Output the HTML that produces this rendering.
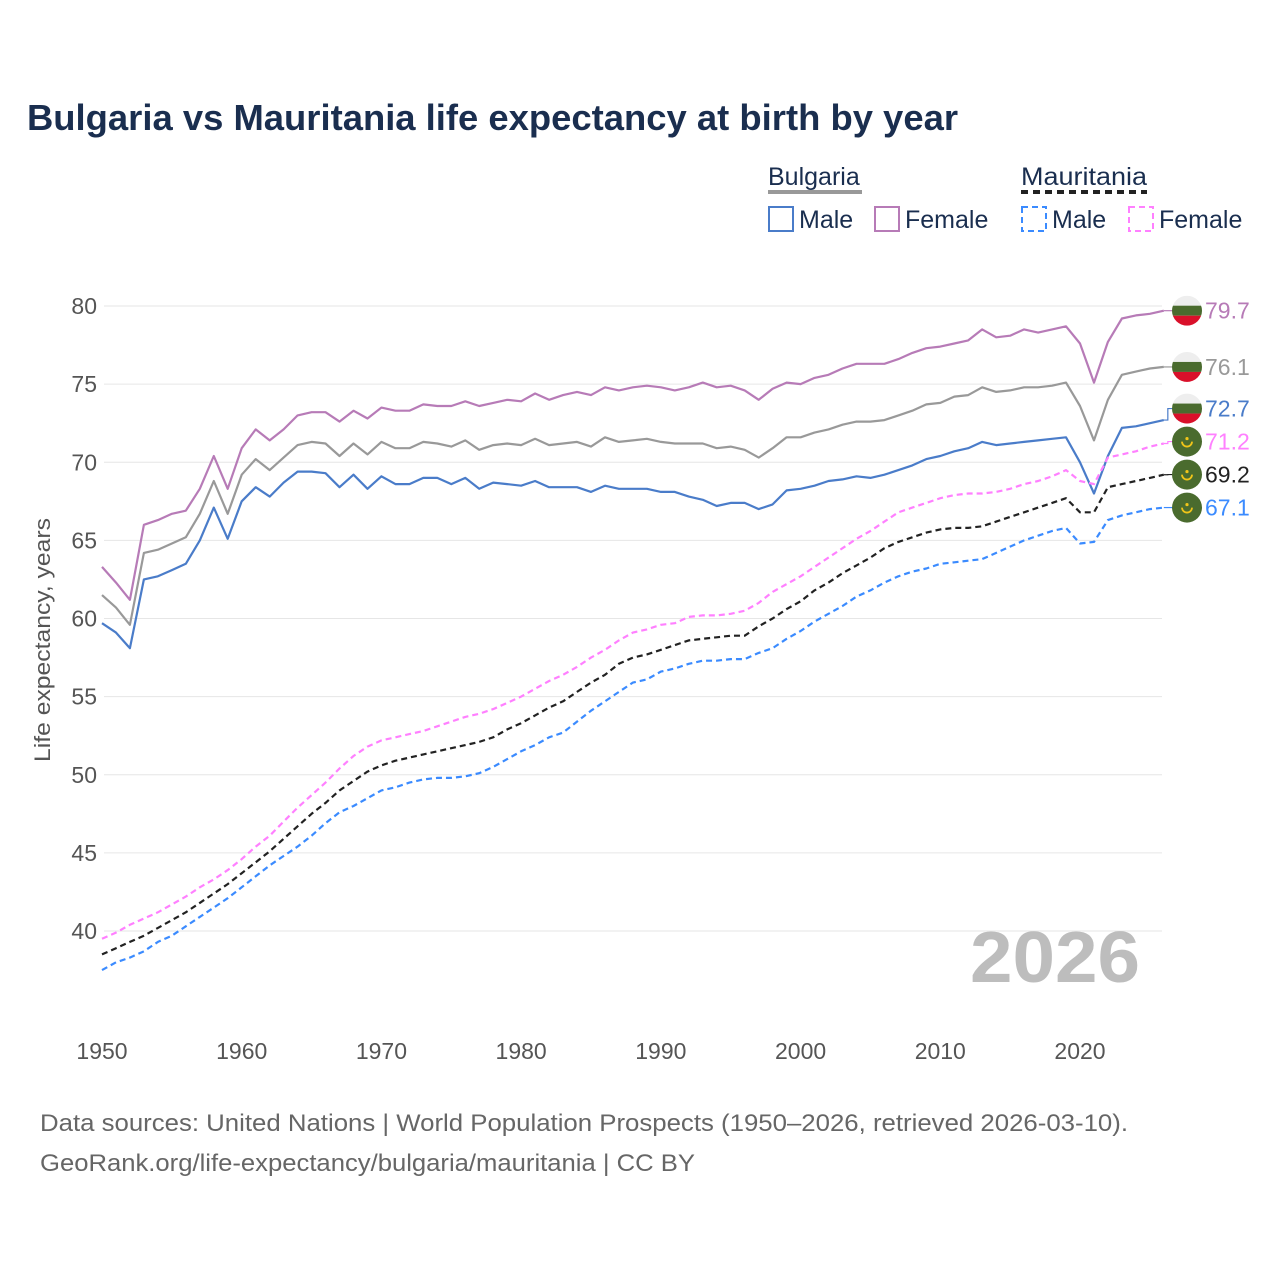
<!DOCTYPE html>
<html><head><meta charset="utf-8">
<style>
body{margin:0;background:#fff;}
svg{display:block;font-family:"Liberation Sans",sans-serif;}
</style></head>
<body>
<svg id="chart" width="1280" height="1280" viewBox="0 0 1280 1280" xmlns="http://www.w3.org/2000/svg">
<rect width="1280" height="1280" fill="#fff"/>
<text x="27" y="130" font-size="36" font-weight="bold" fill="#1a2e4f" textLength="931" lengthAdjust="spacingAndGlyphs">Bulgaria vs Mauritania life expectancy at birth by year</text>
<g font-size="25" fill="#1a2e4f">
<text x="768" y="185">Bulgaria</text>
<line x1="768" y1="192" x2="862" y2="192" stroke="#999" stroke-width="4"/>
<rect x="769" y="207" width="24" height="24" fill="none" stroke="#4a7cc9" stroke-width="2"/>
<text x="799" y="228">Male</text>
<rect x="875" y="207" width="24" height="24" fill="none" stroke="#b77bb7" stroke-width="2"/>
<text x="905" y="228">Female</text>
<text x="1021" y="185" textLength="126" lengthAdjust="spacingAndGlyphs">Mauritania</text>
<line x1="1021" y1="192" x2="1147" y2="192" stroke="#222" stroke-width="4" stroke-dasharray="7,5"/>
<rect x="1022" y="207" width="24" height="24" fill="none" stroke="#3b8bff" stroke-width="2" stroke-dasharray="6,4"/>
<text x="1052" y="228">Male</text>
<rect x="1129" y="207" width="24" height="24" fill="none" stroke="#ff80ff" stroke-width="2" stroke-dasharray="6,4"/>
<text x="1159" y="228">Female</text>
</g>
<g id="grid"></g>
<text x="1140" y="982" text-anchor="end" font-size="72" font-weight="bold" fill="#bdbdbd" textLength="170" lengthAdjust="spacingAndGlyphs">2026</text>
<g id="series"></g>
<g id="labels"></g>
<text transform="translate(50,640) rotate(-90)" text-anchor="middle" font-size="22" fill="#555" textLength="244" lengthAdjust="spacingAndGlyphs">Life expectancy, years</text>
<text x="40" y="1131" font-size="24" fill="#666" textLength="1088" lengthAdjust="spacingAndGlyphs">Data sources: United Nations | World Population Prospects (1950–2026, retrieved 2026-03-10).</text>
<text x="40" y="1171" font-size="24" fill="#666" textLength="655" lengthAdjust="spacingAndGlyphs">GeoRank.org/life-expectancy/bulgaria/mauritania | CC BY</text>
</svg>
<script>
const years = Array.from({length:77},(_, i)=>1950+i);
const xTicks = [1950,1960,1970,1980,1990,2000,2010,2020];
const yTicks = [40,45,50,55,60,65,70,75,80];
const bgFemale = [63.3,62.3,61.2,66.0,66.3,66.7,66.9,68.3,70.4,68.3,
70.9,72.1,71.4,72.1,73.0,73.2,73.2,72.6,73.3,72.8,
73.5,73.3,73.3,73.7,73.6,73.6,73.9,73.6,73.8,74.0,
73.9,74.4,74.0,74.3,74.5,74.3,74.8,74.6,74.8,74.9,
74.8,74.6,74.8,75.1,74.8,74.9,74.6,74.0,74.7,75.1,
75.0,75.4,75.6,76.0,76.3,76.3,76.3,76.6,77.0,77.3,
77.4,77.6,77.8,78.5,78.0,78.1,78.5,78.3,78.5,78.7,
77.6,75.1,77.7,79.2,79.4,79.5,79.7];
const bgTotal = [61.5,60.7,59.6,64.2,64.4,64.8,65.2,66.7,68.8,66.7,
69.2,70.2,69.5,70.3,71.1,71.3,71.2,70.4,71.2,70.5,
71.3,70.9,70.9,71.3,71.2,71.0,71.4,70.8,71.1,71.2,
71.1,71.5,71.1,71.2,71.3,71.0,71.6,71.3,71.4,71.5,
71.3,71.2,71.2,71.2,70.9,71.0,70.8,70.3,70.9,71.6,
71.6,71.9,72.1,72.4,72.6,72.6,72.7,73.0,73.3,73.7,
73.8,74.2,74.3,74.8,74.5,74.6,74.8,74.8,74.9,75.1,
73.6,71.4,74.0,75.6,75.8,76.0,76.1];
const bgMale = [59.7,59.1,58.1,62.5,62.7,63.1,63.5,65.0,67.1,65.1,
67.5,68.4,67.8,68.7,69.4,69.4,69.3,68.4,69.2,68.3,
69.1,68.6,68.6,69.0,69.0,68.6,69.0,68.3,68.7,68.6,
68.5,68.8,68.4,68.4,68.4,68.1,68.5,68.3,68.3,68.3,
68.1,68.1,67.8,67.6,67.2,67.4,67.4,67.0,67.3,68.2,
68.3,68.5,68.8,68.9,69.1,69.0,69.2,69.5,69.8,70.2,
70.4,70.7,70.9,71.3,71.1,71.2,71.3,71.4,71.5,71.6,
70.0,68.0,70.4,72.2,72.3,72.5,72.7];
const mrFemale = [39.5,39.9,40.4,40.8,41.2,41.7,42.2,42.8,43.3,43.9,
44.6,45.4,46.1,47.0,47.9,48.7,49.5,50.4,51.2,51.8,
52.2,52.4,52.6,52.8,53.1,53.4,53.7,53.9,54.2,54.6,
55.0,55.5,56.0,56.4,56.9,57.5,58.0,58.6,59.1,59.3,
59.6,59.7,60.1,60.2,60.2,60.3,60.5,61.0,61.7,62.2,
62.7,63.3,63.9,64.5,65.1,65.6,66.2,66.8,67.1,67.4,
67.7,67.9,68.0,68.0,68.1,68.3,68.6,68.8,69.1,69.5,
68.8,68.6,70.3,70.5,70.7,71.0,71.2];
const mrTotal = [38.5,38.9,39.3,39.7,40.2,40.7,41.2,41.8,42.4,43.0,
43.7,44.4,45.1,45.9,46.7,47.5,48.2,49.0,49.6,50.2,
50.6,50.9,51.1,51.3,51.5,51.7,51.9,52.1,52.4,52.9,
53.3,53.8,54.3,54.7,55.3,55.9,56.4,57.1,57.5,57.7,
58.0,58.3,58.6,58.7,58.8,58.9,58.9,59.5,60.0,60.6,
61.1,61.8,62.3,62.9,63.4,63.9,64.5,64.9,65.2,65.5,
65.7,65.8,65.8,65.9,66.2,66.5,66.8,67.1,67.4,67.7,
66.8,66.8,68.4,68.6,68.8,69.0,69.2];
const mrMale = [37.5,38.0,38.3,38.7,39.3,39.7,40.3,40.9,41.5,42.1,
42.8,43.5,44.2,44.8,45.4,46.1,46.9,47.6,48.0,48.5,
49.0,49.2,49.5,49.7,49.8,49.8,49.9,50.1,50.5,51.0,
51.5,51.9,52.4,52.7,53.4,54.1,54.7,55.3,55.9,56.1,
56.6,56.8,57.1,57.3,57.3,57.4,57.4,57.8,58.1,58.7,
59.2,59.8,60.3,60.8,61.4,61.8,62.3,62.7,63.0,63.2,
63.5,63.6,63.7,63.8,64.2,64.6,65.0,65.3,65.6,65.8,
64.8,64.9,66.3,66.6,66.8,67.0,67.1];

const NS='http://www.w3.org/2000/svg';
const x = y => 102 + (y-1950)*(1080-102)/70;
const yS = v => 306 + (80-v)*15.625;
const grid=document.getElementById('grid');
const series=document.getElementById('series');
const labels=document.getElementById('labels');
function mk(tag,attrs,parent){const e=document.createElementNS(NS,tag);for(const k in attrs)e.setAttribute(k,attrs[k]);parent.appendChild(e);return e;}

yTicks.forEach(t=>{
  const l=mk('line',{x1:104,x2:1162,y1:yS(t),y2:yS(t),stroke:'#e6e6e6','stroke-width':1},grid);
  
  
  const tx=mk('text',{x:97,y:yS(t)+8,'text-anchor':'end','font-size':23,fill:'#555'},grid);
  
  
  tx.textContent=t;
});
xTicks.forEach(t=>{
  const tx=mk('text',{x:x(t),y:1059,'text-anchor':'middle','font-size':23,fill:'#555'},grid);
  
  
  tx.textContent=t;
});

const defs=[
 {d:bgFemale,c:'#b77bb7',dash:null,n:'bulgaria-female',flag:'bg'},
 {d:bgTotal,c:'#999999',dash:null,n:'bulgaria-total',flag:'bg'},
 {d:bgMale,c:'#4a7cc9',dash:null,n:'bulgaria-male',flag:'bg'},
 {d:mrFemale,c:'#ff80ff',dash:'6,4',n:'mauritania-female',flag:'mr'},
 {d:mrTotal,c:'#222222',dash:'6,4',n:'mauritania-total',flag:'mr'},
 {d:mrMale,c:'#3b8bff',dash:'6,4',n:'mauritania-male',flag:'mr'}
];
defs.forEach(s=>{
  const pts=s.d.map((v,i)=>x(years[i]).toFixed(1)+','+yS(v).toFixed(1)).join(' ');
  const a={points:pts,fill:'none',stroke:s.c,'stroke-width':2.2,'stroke-linejoin':'round'};
  if(s.dash)a['stroke-dasharray']=s.dash;
  const p=mk('polyline',a,series);
  
  
});
const ends=defs.map(s=>({s,v:s.d[s.d.length-1],y0:yS(s.d[s.d.length-1])})).sort((a,b)=>b.y0-a.y0);
let below=1e9;
ends.forEach(e=>{e.y=Math.min(e.y0,below-33);below=e.y;});
const xe=x(years[years.length-1]);
ends.forEach(e=>{
  const g=mk('g',{},labels);
  
  
  mk('polyline',{points:`${xe},${e.y0} ${xe+4},${e.y0} ${xe+4},${e.y} ${xe+10},${e.y}`,fill:'none',stroke:e.s.c,'stroke-width':1.2},g);
  const cx=1187,cy=e.y,r=15;
  if(e.s.flag==='bg'){
    const cid='c'+e.s.n;
    const cp=mk('clipPath',{id:cid},g);mk('circle',{cx,cy,r},cp);
    const fg=mk('g',{'clip-path':`url(#${cid})`},g);
    mk('rect',{x:cx-r,y:cy-r,width:2*r,height:10,fill:'#eeeeee'},fg);
    mk('rect',{x:cx-r,y:cy-r+10,width:2*r,height:10,fill:'#4a6b2e'},fg);
    mk('rect',{x:cx-r,y:cy-r+20,width:2*r,height:10,fill:'#d9102a'},fg);
  } else {
    mk('circle',{cx,cy,r,fill:'#4a6b2e'},g);
    mk('path',{d:`M${cx-5},${cy} A5,5 0 0 0 ${cx+5},${cy}`,fill:'none',stroke:'#f0c419','stroke-width':1.8},g);
    mk('circle',{cx,cy:cy-3,r:1.6,fill:'#f0c419'},g);
  }
  const t=mk('text',{x:1205,y:e.y+8,'font-size':23,fill:e.s.c},g);
  t.textContent=e.v.toFixed(1);
});
</script>
</body></html>
